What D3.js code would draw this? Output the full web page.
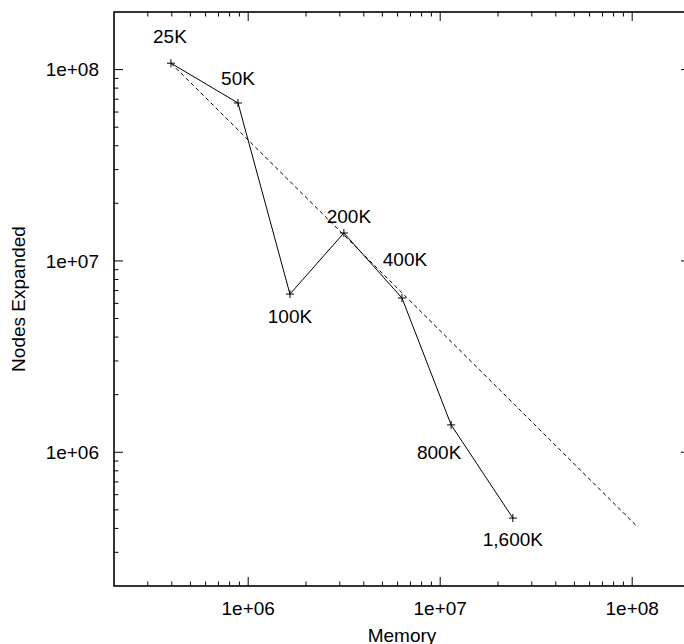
<!DOCTYPE html>
<html>
<head>
<meta charset="utf-8">
<script src="https://cdn.jsdelivr.net/npm/d3@7"></script>
<style>
  body { margin: 0; background: #fff; }
  text { font-family: "Liberation Sans", Arial, Helvetica, sans-serif; font-size: 19px; fill: #000; }
</style>
</head>
<body>
<svg id="chart" width="684" height="644"></svg>
<script>
// cutoff labels, memory used, nodes expanded
var cutoffs = ["25K", "50K", "100K", "200K", "400K", "800K", "1,600K"]
var memory = [3.96e5, 8.85e5, 1.65e6, 3.15e6, 6.32e6, 1.14e7, 2.39e7]
var nodes = [1.08e8, 6.69e7, 6.71e6, 1.40e7, 6.40e6, 1.39e6, 4.53e5]

// dashed reference line (two end points)
var refMemory = [3.96e5, 1.07e8]
var refNodes = [1.08e8, 4.06e5]

var xTicks = [1e6, 1e7, 1e8]
var yTicks = [1e6, 1e7, 1e8]
var tickLabels = ["1e+06", "1e+07", "1e+08"]

// where each point label sits relative to its marker (px)
var labelOffsets = [[-1,-20],[0,-18],[0,29],[5,-10],[3,-32],[-12,34],[0,28]]

// plot box (window.top is read only, so no "top" here)
var pLeft = 114, pRight = 690, pTop = 12, pBottom = 586

var x = d3.scaleLog().domain([2e5, 2e8]).range([pLeft, pRight])
var y = d3.scaleLog().domain([2e5, 2e8]).range([pBottom, pTop])

var svg = d3.select('#chart')

// minor ticks: 2..9 of every decade inside the domain
function minors(scale){
  var out = []
  var d = scale.domain()
  for (var e = 5; e <= 8; e++){
    for (var m = 2; m <= 9; m++){
      var v = m*Math.pow(10,e)
      if (v > d[0]*1.001 && v < d[1]*0.999) out.push(v)
    }
  }
  return out
}

var major = 9, minor = 4.5

var g = svg.append('g').attr('stroke','#000').attr('stroke-width',1)

// bottom / top ticks
xTicks.forEach(function(t){
  g.append('line').attr('x1',x(t)).attr('x2',x(t)).attr('y1',pBottom).attr('y2',pBottom-major)
  g.append('line').attr('x1',x(t)).attr('x2',x(t)).attr('y1',pTop).attr('y2',pTop+major)
})
minors(x).forEach(function(t){
  g.append('line').attr('x1',x(t)).attr('x2',x(t)).attr('y1',pBottom).attr('y2',pBottom-minor)
  g.append('line').attr('x1',x(t)).attr('x2',x(t)).attr('y1',pTop).attr('y2',pTop+minor)
})
// left / right ticks
yTicks.forEach(function(t){
  g.append('line').attr('y1',y(t)).attr('y2',y(t)).attr('x1',pLeft).attr('x2',pLeft+major)
  g.append('line').attr('y1',y(t)).attr('y2',y(t)).attr('x1',pRight).attr('x2',pRight-major)
})
minors(y).forEach(function(t){
  g.append('line').attr('y1',y(t)).attr('y2',y(t)).attr('x1',pLeft).attr('x2',pLeft+minor)
  g.append('line').attr('y1',y(t)).attr('y2',y(t)).attr('x1',pRight).attr('x2',pRight-minor)
})

// frame
svg.append('rect')
  .attr('x',pLeft).attr('y',pTop)
  .attr('width',pRight-pLeft).attr('height',pBottom-pTop)
  .attr('fill','none').attr('stroke','#000').attr('stroke-width',1.6)

// tick labels
svg.selectAll('text.xt').data(xTicks).enter().append('text')
  .attr('class','xt')
  .attr('x',d=>x(d)).attr('y',pBottom+29)
  .attr('text-anchor','middle')
  .text((d,i)=>tickLabels[i])

svg.selectAll('text.yt').data(yTicks).enter().append('text')
  .attr('class','yt')
  .attr('x',pLeft-15).attr('y',d=>y(d))
  .attr('dy','0.35em')
  .attr('text-anchor','end')
  .text((d,i)=>tickLabels[i])

// axis titles
svg.append('text')
  .attr('x',(pLeft+pRight)/2).attr('y',642)
  .attr('text-anchor','middle')
  .text('Memory')

svg.append('text')
  .attr('transform','translate(25,'+((pTop+pBottom)/2)+') rotate(-90)')
  .attr('text-anchor','middle')
  .text('Nodes Expanded')

var line = d3.line().x(d=>x(d[0])).y(d=>y(d[1]))

// dashed reference
svg.append('path')
  .attr('d', line(refMemory.map((m,i)=>[m, refNodes[i]])))
  .attr('fill','none').attr('stroke','#000').attr('stroke-width',1)
  .attr('stroke-dasharray','4,3')

var pts = memory.map((m,i)=>[m, nodes[i]])

svg.append('path')
  .attr('d', line(pts))
  .attr('fill','none').attr('stroke','#000').attr('stroke-width',1)

// + markers
var s = 4
svg.selectAll('path.pt').data(pts).enter().append('path')
  .attr('class','pt')
  .attr('d', d=> 'M'+(x(d[0])-s)+','+y(d[1])+'H'+(x(d[0])+s)+'M'+x(d[0])+','+(y(d[1])-s)+'V'+(y(d[1])+s))
  .attr('stroke','#000').attr('stroke-width',1)

// point labels
svg.selectAll('text.lbl').data(pts).enter().append('text')
  .attr('class','lbl')
  .attr('x',(d,i)=>x(d[0])+labelOffsets[i][0])
  .attr('y',(d,i)=>y(d[1])+labelOffsets[i][1])
  .attr('text-anchor','middle')
  .text((d,i)=>cutoffs[i])
</script>
</body>
</html>
